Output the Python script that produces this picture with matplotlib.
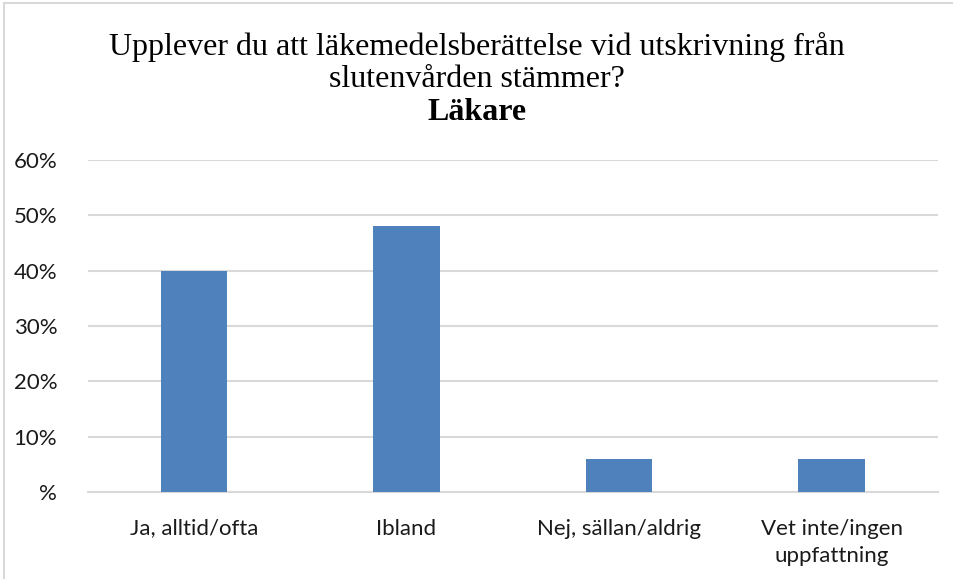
import matplotlib.pyplot as plt
from matplotlib.patches import Rectangle

categories = ["Ja, alltid/ofta", "Ibland", "Nej, sällan/aldrig", "Vet inte/ingen\nuppfattning"]
values = [40, 48, 6, 6]
yticks = [0, 10, 20, 30, 40, 50, 60]
ytick_labels = ["%", "10%", "20%", "30%", "40%", "50%", "60%"]

fig = plt.figure(figsize=(9.54, 5.79), dpi=100)
ax = fig.add_axes([0.092, 0.150, 0.891, 0.574])

x = range(len(categories))
ax.bar(x, values, width=0.315, color="#4F81BD", zorder=3)

ax.set_xlim(-0.5, len(categories) - 0.5)
ax.set_ylim(0, 60)
ax.set_yticks(yticks)
ax.set_yticklabels(ytick_labels, family="Lato", fontsize=16, color="#1a1a1a")
ax.set_xticks(list(x))
ax.set_xticklabels(categories, family="Lato", fontsize=16, color="#1a1a1a",
                   linespacing=1.45)
ax.tick_params(axis="both", length=0)
ax.tick_params(axis="x", pad=19)
ax.tick_params(axis="y", pad=22)

ax.grid(axis="y", color="#D9D9D9", linewidth=1.5, zorder=0)
for s in ["top", "right", "left"]:
    ax.spines[s].set_visible(False)
ax.spines["bottom"].set_color("#D9D9D9")
ax.spines["bottom"].set_linewidth(1.5)

fig.text(0.5, 0.918, "Upplever du att läkemedelsberättelse vid utskrivning från",
         ha="center", va="center", family="Liberation Serif", fontsize=23)
fig.text(0.5, 0.862, "slutenvården stämmer?",
         ha="center", va="center", family="Liberation Serif", fontsize=23)
fig.text(0.5, 0.806, "Läkare",
         ha="center", va="center", family="Liberation Serif", fontsize=23, weight="bold")

fig.patches.append(Rectangle((0.004, -0.01), 1.2, 1.005, transform=fig.transFigure,
                             fill=False, edgecolor="#D9D9D9", linewidth=1.5))

fig.savefig("out.png", dpi=100)
